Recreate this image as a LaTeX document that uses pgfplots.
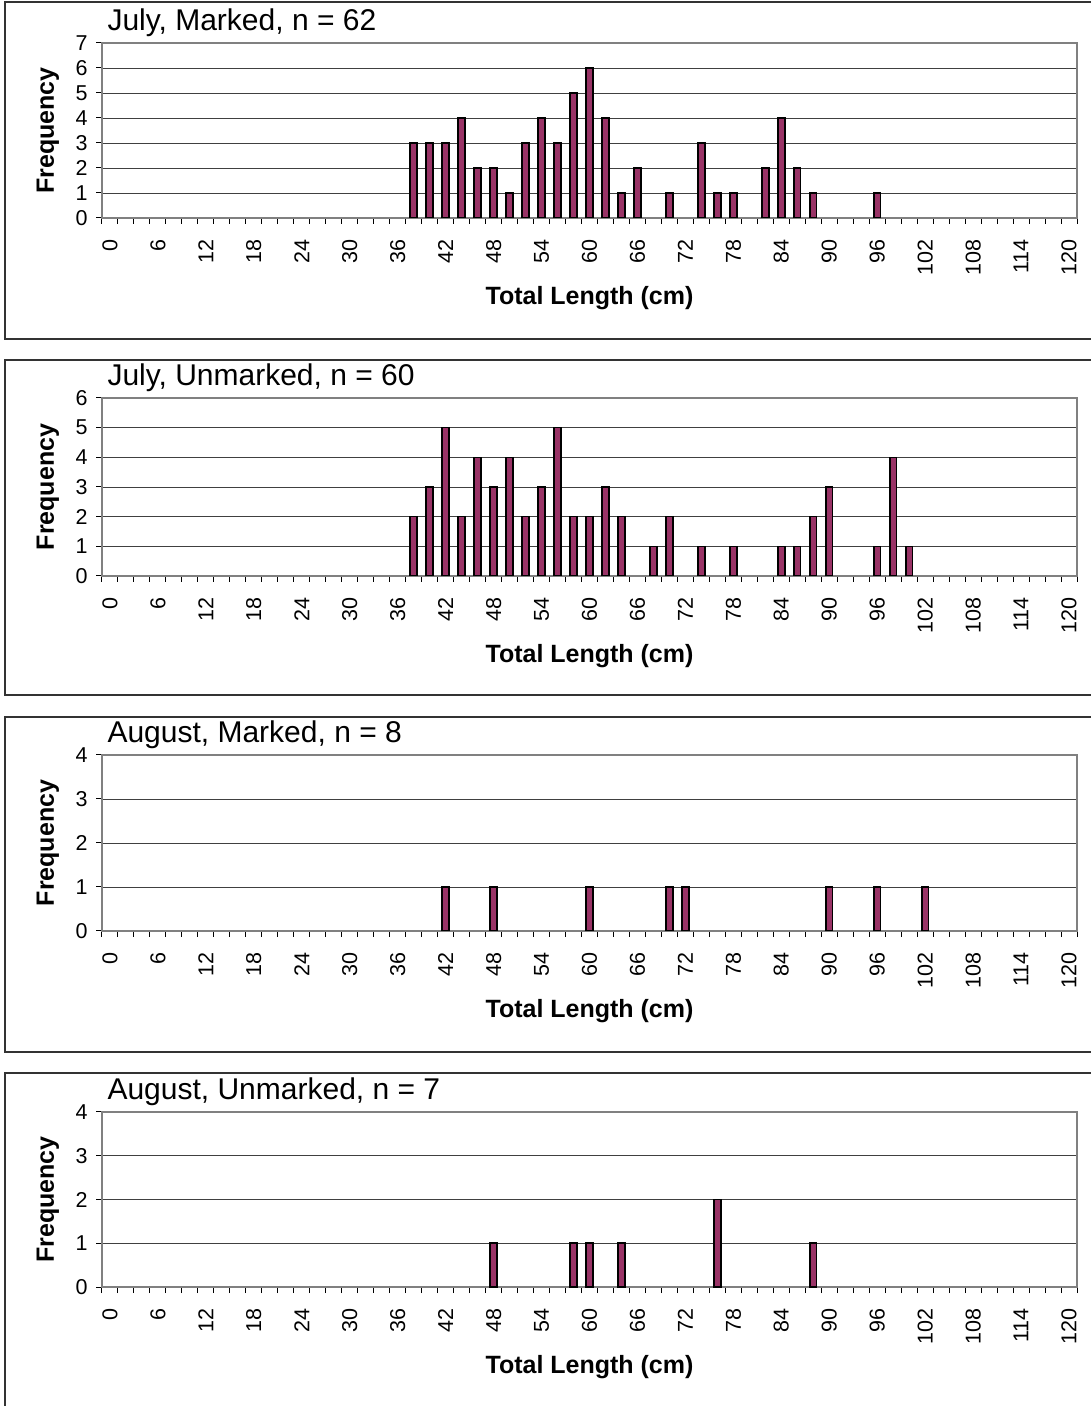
\documentclass[border=0pt]{standalone}
\usepackage{fontspec}
\setmainfont{Liberation Sans}
\usepackage{pgfplots}
\pgfplotsset{compat=1.18}
\definecolor{barc}{HTML}{993366}
\pgfplotsset{panel/.style={
  scale only axis, width=975pt, height=176pt,
  anchor=south west,
  xmin=-1, xmax=121, ymin=0,
  xtick={0,6,...,120},
  minor xtick={-1,1,...,121},
  major x tick style={draw=none},
  tick pos=left, tick align=outside,
  major tick length=6pt, minor tick length=6pt,
  every tick/.style={black, line width=1pt},
  ymajorgrids, grid style={black!75, line width=0.8pt},
  axis line style={black!50, line width=1.6pt},
  /pgf/number format/assume math mode=true,
  ticklabel style={font=\fontsize{21.5}{21.5}\selectfont},
  xticklabel style={rotate=90, anchor=east},
  xticklabel shift=12pt,
  yticklabel shift=5pt,
  title style={at={(0,1)}, anchor=base west, xshift=2pt, yshift=6pt, font=\fontsize{30}{30}\selectfont},
  ylabel={Frequency},
  ylabel style={at={(axis description cs:-0.0554,0.5)}, anchor=center, font=\bfseries\fontsize{25}{25}\selectfont},
  xlabel={Total Length (cm)},
  xlabel style={at={(axis description cs:0.5,0)}, anchor=center, yshift=-80pt, font=\bfseries\fontsize{25}{25}\selectfont},
}, barsty/.style={ybar, bar width=0.85, fill=barc, draw=black, line width=1.6pt}}
\begin{document}
\begin{tikzpicture}
\path[use as bounding box] (0,0) rectangle (1090pt,1406pt);
\draw[black!80, line width=1.3pt] (5pt,1067pt) rectangle (1100pt,1404pt);
\draw[black!80, line width=1.3pt] (5pt,711pt) rectangle (1100pt,1046pt);
\draw[black!80, line width=1.3pt] (5pt,354pt) rectangle (1100pt,689pt);
\draw[black!80, line width=1.3pt] (5pt,-4pt) rectangle (1100pt,333pt);

\begin{axis}[panel, at={(102pt,1188pt)}, height=175pt, ymax=7, ytick={0,...,7}, title={July, Marked, n = 62}]
\addplot[barsty] coordinates {(38,3) (40,3) (42,3) (44,4) (46,2) (48,2) (50,1) (52,3) (54,4) (56,3) (58,5) (60,6) (62,4) (64,1) (66,2) (70,1) (74,3) (76,1) (78,1) (82,2) (84,4) (86,2) (88,1) (96,1)};
\end{axis}

\begin{axis}[panel, at={(102pt,830pt)}, height=178pt, ymax=6, ytick={0,...,6}, title={July, Unmarked, n = 60}]
\addplot[barsty] coordinates {(38,2) (40,3) (42,5) (44,2) (46,4) (48,3) (50,4) (52,2) (54,3) (56,5) (58,2) (60,2) (62,3) (64,2) (68,1) (70,2) (74,1) (78,1) (84,1) (86,1) (88,2) (90,3) (96,1) (98,4) (100,1)};
\end{axis}

\begin{axis}[panel, at={(102pt,475pt)}, height=176pt, ymax=4, ytick={0,...,4}, title={August, Marked, n = 8}]
\addplot[barsty] coordinates {(42,1) (48,1) (60,1) (70,1) (72,1) (90,1) (96,1) (102,1)};
\end{axis}

\begin{axis}[panel, at={(102pt,119pt)}, height=175pt, ymax=4, ytick={0,...,4}, title={August, Unmarked, n = 7}]
\addplot[barsty] coordinates {(48,1) (58,1) (60,1) (64,1) (76,2) (88,1)};
\end{axis}
\end{tikzpicture}
\end{document}
